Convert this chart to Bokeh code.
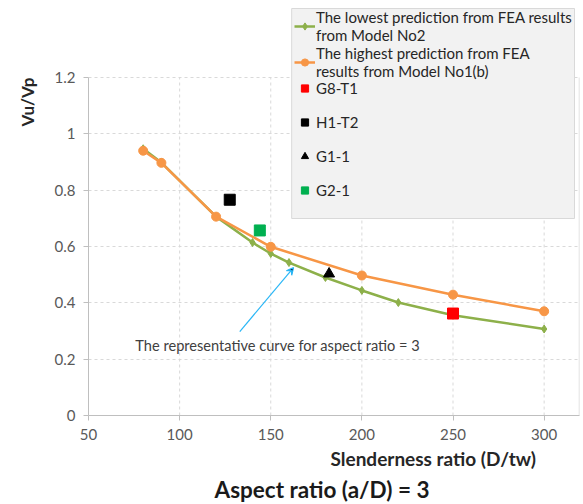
from bokeh.plotting import figure
from bokeh.models import (Range1d, FixedTicker, Legend, LegendItem, Label, Arrow, VeeHead,
                          Title, BoxAnnotation)
from bokeh.embed import file_html
from bokeh.resources import INLINE

# ---- data ----
low_x = [80, 90, 120, 140, 150, 160, 180, 200, 220, 250, 300]
low_y = [0.947, 0.898, 0.706, 0.614, 0.575, 0.543, 0.490, 0.444, 0.401, 0.356, 0.307]
high_x = [80, 90, 120, 150, 200, 250, 300]
high_y = [0.940, 0.897, 0.706, 0.599, 0.497, 0.429, 0.370]
g8_x, g8_y = [250], [0.362]
h1_x, h1_y = [127.5], [0.766]
g1_x, g1_y = [182], [0.503]
g2_x, g2_y = [144], [0.657]
x_ticks = [50, 100, 150, 200, 250, 300]
y_ticks = [0, 0.2, 0.4, 0.6, 0.8, 1, 1.2]
y_tick_labels = ["0", "0.2", "0.4", "0.6", "0.8", "1", "1.2"]

FONT = "Lato"
GREEN = "#8db04a"
ORANGE = "#f79646"
X_MIN, X_MAX = 50, 319.4
Y_MIN, Y_MAX = 0, 1.2
PX_X = 493 / (X_MAX - X_MIN)      # pixels per x unit in the frame
PX_Y = 338 / (Y_MAX - Y_MIN)      # pixels per y unit
Y_TOP = Y_MAX + 75 / PX_Y         # frame extends above the plot area so the legend is not clipped

p = figure(width=583, height=504, output_backend="svg", toolbar_location=None,
           x_range=Range1d(X_MIN, X_MAX), y_range=Range1d(Y_MIN, Y_TOP),
           min_border_left=86, min_border_right=4, min_border_top=2, min_border_bottom=89)
p.outline_line_color = None
p.background_fill_color = "white"
p.border_fill_color = "white"

for ax in (p.xaxis[0], p.yaxis[0]):
    ax.axis_line_color = "#bfbfbf"
    ax.major_tick_line_color = "#bfbfbf"
    ax.major_tick_out = 5
    ax.major_tick_in = 0
    ax.minor_tick_line_color = None
    ax.major_label_text_font = FONT
    ax.major_label_text_font_size = "15px"
    ax.major_label_text_color = "#595959"
p.xaxis[0].ticker = FixedTicker(ticks=x_ticks)
p.yaxis[0].ticker = FixedTicker(ticks=y_ticks)
p.yaxis[0].bounds = (Y_MIN, Y_MAX)
p.yaxis[0].major_label_overrides = {t: l for t, l in zip(y_ticks, y_tick_labels)}
p.xaxis[0].major_label_standoff = 8
p.yaxis[0].major_label_standoff = 8

p.ygrid[0].grid_line_color = "#d9d9d9"
p.ygrid[0].grid_line_dash = "3 3"
p.ygrid[0].ticker = FixedTicker(ticks=y_ticks)
p.xgrid[0].grid_line_color = None
# vertical grid lines limited to the plot area (0 .. 1.2)
p.segment(x0=x_ticks[1:], y0=[Y_MIN] * (len(x_ticks) - 1), x1=x_ticks[1:],
          y1=[Y_MAX] * (len(x_ticks) - 1), line_color="#d9d9d9", line_dash="3 3", line_width=1)

# plot-area right border
p.segment(x0=[X_MAX], y0=[Y_MIN], x1=[X_MAX], y1=[Y_MAX], line_color="#d9d9d9", line_width=1.5)

l1 = p.line(low_x, low_y, line_color=GREEN, line_width=2.5)
s1 = p.scatter(low_x, low_y, marker="diamond", size=8, fill_color=GREEN, line_color=GREEN)
l2 = p.line(high_x, high_y, line_color=ORANGE, line_width=2.5)
s2 = p.scatter(high_x, high_y, marker="circle", size=9, fill_color=ORANGE, line_color=ORANGE)
r_g8 = p.scatter(g8_x, g8_y, marker="square", size=11, fill_color="#ff0000", line_color="#ff0000")
r_h1 = p.scatter(h1_x, h1_y, marker="square", size=11, fill_color="#000000", line_color="#000000")
r_g1 = p.scatter(g1_x, g1_y, marker="triangle", size=11, fill_color="#000000", line_color="#000000")
r_g2 = p.scatter(g2_x, g2_y, marker="square", size=11, fill_color="#00b050", line_color="#00b050")

# legend box (background + border), in frame pixels converted to data units
LEG_LEFT_PX, LEG_RIGHT_PX, LEG_TOP_PX, LEG_BOTTOM_PX = 204, 488, 69, 197
p.add_layout(BoxAnnotation(left=X_MIN + LEG_LEFT_PX / PX_X, right=X_MIN + LEG_RIGHT_PX / PX_X,
                           top=Y_MAX + LEG_TOP_PX / PX_Y, bottom=Y_MIN + LEG_BOTTOM_PX / PX_Y,
                           fill_color="#f2f2f2", fill_alpha=1, line_color="#d9d9d9", line_width=1,
                           line_alpha=1))


def make_legend(items, loc, label_height):
    lg = Legend(items=items, location=loc)
    lg.background_fill_alpha = 0
    lg.border_line_color = None
    lg.label_text_font = FONT
    lg.label_text_font_size = "15px"
    lg.label_text_line_height = 1.2
    lg.label_text_color = "#262626"
    lg.glyph_width = 21
    lg.glyph_height = 18
    lg.label_height = label_height
    lg.label_standoff = 1
    lg.spacing = 0
    lg.padding = 0
    lg.margin = 0
    return lg


leg_lines = make_legend([
    LegendItem(label="The lowest prediction from FEA results\nfrom Model No2", renderers=[l1, s1]),
    LegendItem(label="The highest prediction from FEA\nresults from Model No1(b)", renderers=[l2, s2]),
], (206, 335), 20)
leg_marks = make_legend([
    LegendItem(label="G8-T1", renderers=[r_g8]),
    LegendItem(label="H1-T2", renderers=[r_h1]),
    LegendItem(label="G1-1", renderers=[r_g1]),
    LegendItem(label="G2-1", renderers=[r_g2]),
], (206, 208), 34)
p.add_layout(leg_lines, "center")
p.add_layout(leg_marks, "center")

p.add_layout(Arrow(end=VeeHead(size=7, line_color="#29b6f6", line_width=1.2),
                   x_start=133, y_start=0.298, x_end=162.5, y_end=0.525,
                   line_color="#29b6f6", line_width=1.2))
p.add_layout(Label(x=75.7, y=0.248, text="The representative curve for aspect ratio = 3",
                   text_font=FONT, text_font_size="14.6px", text_color="#404040",
                   text_align="left", text_baseline="middle"))

# axis titles
p.add_layout(Title(text="Vu/Vp", align="right", offset=75, standoff=28,
                   text_font=FONT, text_font_size="17px", text_font_style="bold",
                   text_color="#262626"), "left")
p.add_layout(Title(text="Slenderness ratio (D/tw)", align="left", offset=242, standoff=4,
                   text_font=FONT, text_font_size="19px", text_font_style="bold",
                   text_color="#262626"), "below")
p.add_layout(Title(text="Aspect ratio (a/D) = 3", align="left", offset=126, standoff=4,
                   text_font=FONT, text_font_size="22.5px", text_font_style="bold",
                   text_color="#1a1a1a"), "below")

open("out.html", "w").write(file_html(p, INLINE))
